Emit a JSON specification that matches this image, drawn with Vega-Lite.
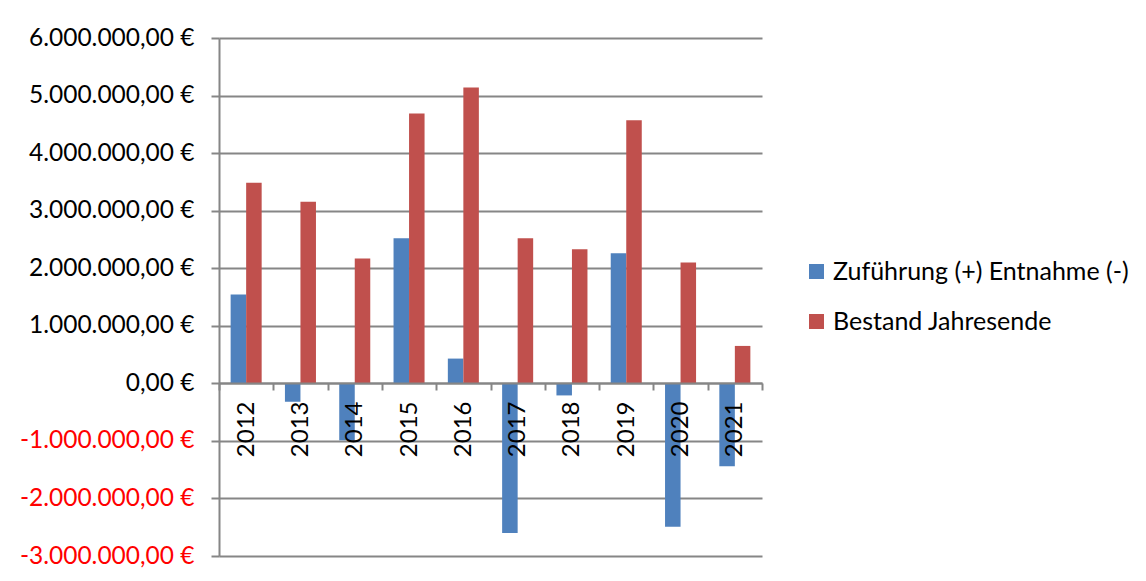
{
  "$schema": "https://vega.github.io/schema/vega-lite/v6.json",
  "width": 543,
  "height": 518,
  "autosize": {"type": "none"},
  "padding": {"left": 219, "top": 38, "right": 384, "bottom": 25},
  "background": "white",
  "config": {
    "locale": {"number": {"decimal": ",", "thousands": ".", "grouping": [3], "currency": ["", " €"], "minus": "-"}},
    "font": "Lato",
    "view": {"stroke": null}
  },
  "data": {
    "values": [
      {"Jahr": "2012", "Reihe": "Zuführung (+) Entnahme (-)", "Wert": 1545000},
      {"Jahr": "2012", "Reihe": "Bestand Jahresende", "Wert": 3485000},
      {"Jahr": "2013", "Reihe": "Zuführung (+) Entnahme (-)", "Wert": -320000},
      {"Jahr": "2013", "Reihe": "Bestand Jahresende", "Wert": 3155000},
      {"Jahr": "2014", "Reihe": "Zuführung (+) Entnahme (-)", "Wert": -990000},
      {"Jahr": "2014", "Reihe": "Bestand Jahresende", "Wert": 2170000},
      {"Jahr": "2015", "Reihe": "Zuführung (+) Entnahme (-)", "Wert": 2520000},
      {"Jahr": "2015", "Reihe": "Bestand Jahresende", "Wert": 4690000},
      {"Jahr": "2016", "Reihe": "Zuführung (+) Entnahme (-)", "Wert": 430000},
      {"Jahr": "2016", "Reihe": "Bestand Jahresende", "Wert": 5140000},
      {"Jahr": "2017", "Reihe": "Zuführung (+) Entnahme (-)", "Wert": -2600000},
      {"Jahr": "2017", "Reihe": "Bestand Jahresende", "Wert": 2520000},
      {"Jahr": "2018", "Reihe": "Zuführung (+) Entnahme (-)", "Wert": -210000},
      {"Jahr": "2018", "Reihe": "Bestand Jahresende", "Wert": 2330000},
      {"Jahr": "2019", "Reihe": "Zuführung (+) Entnahme (-)", "Wert": 2260000},
      {"Jahr": "2019", "Reihe": "Bestand Jahresende", "Wert": 4570000},
      {"Jahr": "2020", "Reihe": "Zuführung (+) Entnahme (-)", "Wert": -2490000},
      {"Jahr": "2020", "Reihe": "Bestand Jahresende", "Wert": 2100000},
      {"Jahr": "2021", "Reihe": "Zuführung (+) Entnahme (-)", "Wert": -1440000},
      {"Jahr": "2021", "Reihe": "Bestand Jahresende", "Wert": 650000}
    ]
  },
  "mark": {"type": "bar"},
  "encoding": {
    "x": {
      "field": "Jahr",
      "type": "nominal",
      "scale": {"paddingInner": 0, "paddingOuter": 0},
      "axis": {
        "title": null,
        "orient": "bottom",
        "offset": -173,
        "zindex": 1,
        "tickBand": "extent",
        "tickSize": 7,
        "tickColor": "#868686",
        "tickWidth": 2,
        "domainColor": "#868686",
        "domainWidth": 2,
        "labelAngle": 270,
        "labelAlign": "right",
        "labelBaseline": "middle",
        "labelPadding": 11,
        "labelFontSize": 24,
        "labelColor": "#000000",
        "grid": false
      }
    },
    "xOffset": {
      "field": "Reihe",
      "type": "nominal",
      "sort": ["Zuführung (+) Entnahme (-)", "Bestand Jahresende"],
      "scale": {"paddingOuter": 0.75, "paddingInner": 0}
    },
    "y": {
      "field": "Wert",
      "type": "quantitative",
      "scale": {"domain": [-3000000, 6000000], "nice": false, "zero": false},
      "axis": {
        "title": null,
        "values": [-3000000, -2000000, -1000000, 0, 1000000, 2000000, 3000000, 4000000, 5000000, 6000000],
        "format": "$,.2f",
        "tickSize": 8,
        "labelPadding": 17,
        "labelFontSize": 24.5,
        "labelColor": {"condition": {"test": "datum.value < 0", "value": "#FF0000"}, "value": "#000000"},
        "gridColor": "#868686",
        "gridWidth": 2,
        "domainColor": "#868686",
        "domainWidth": 2,
        "tickColor": "#868686",
        "tickWidth": 2
      }
    },
    "color": {
      "field": "Reihe",
      "type": "nominal",
      "scale": {"domain": ["Zuführung (+) Entnahme (-)", "Bestand Jahresende"], "range": ["#4F81BD", "#C0504D"]},
      "legend": {
        "title": null,
        "orient": "none",
        "legendX": 585,
        "legendY": 221,
        "symbolType": "square",
        "symbolSize": 225,
        "symbolStrokeWidth": 0,
        "labelFontSize": 25,
        "labelOffset": 4,
        "labelLimit": 400,
        "rowPadding": 24,
        "labelColor": "#000000"
      }
    }
  }
}
